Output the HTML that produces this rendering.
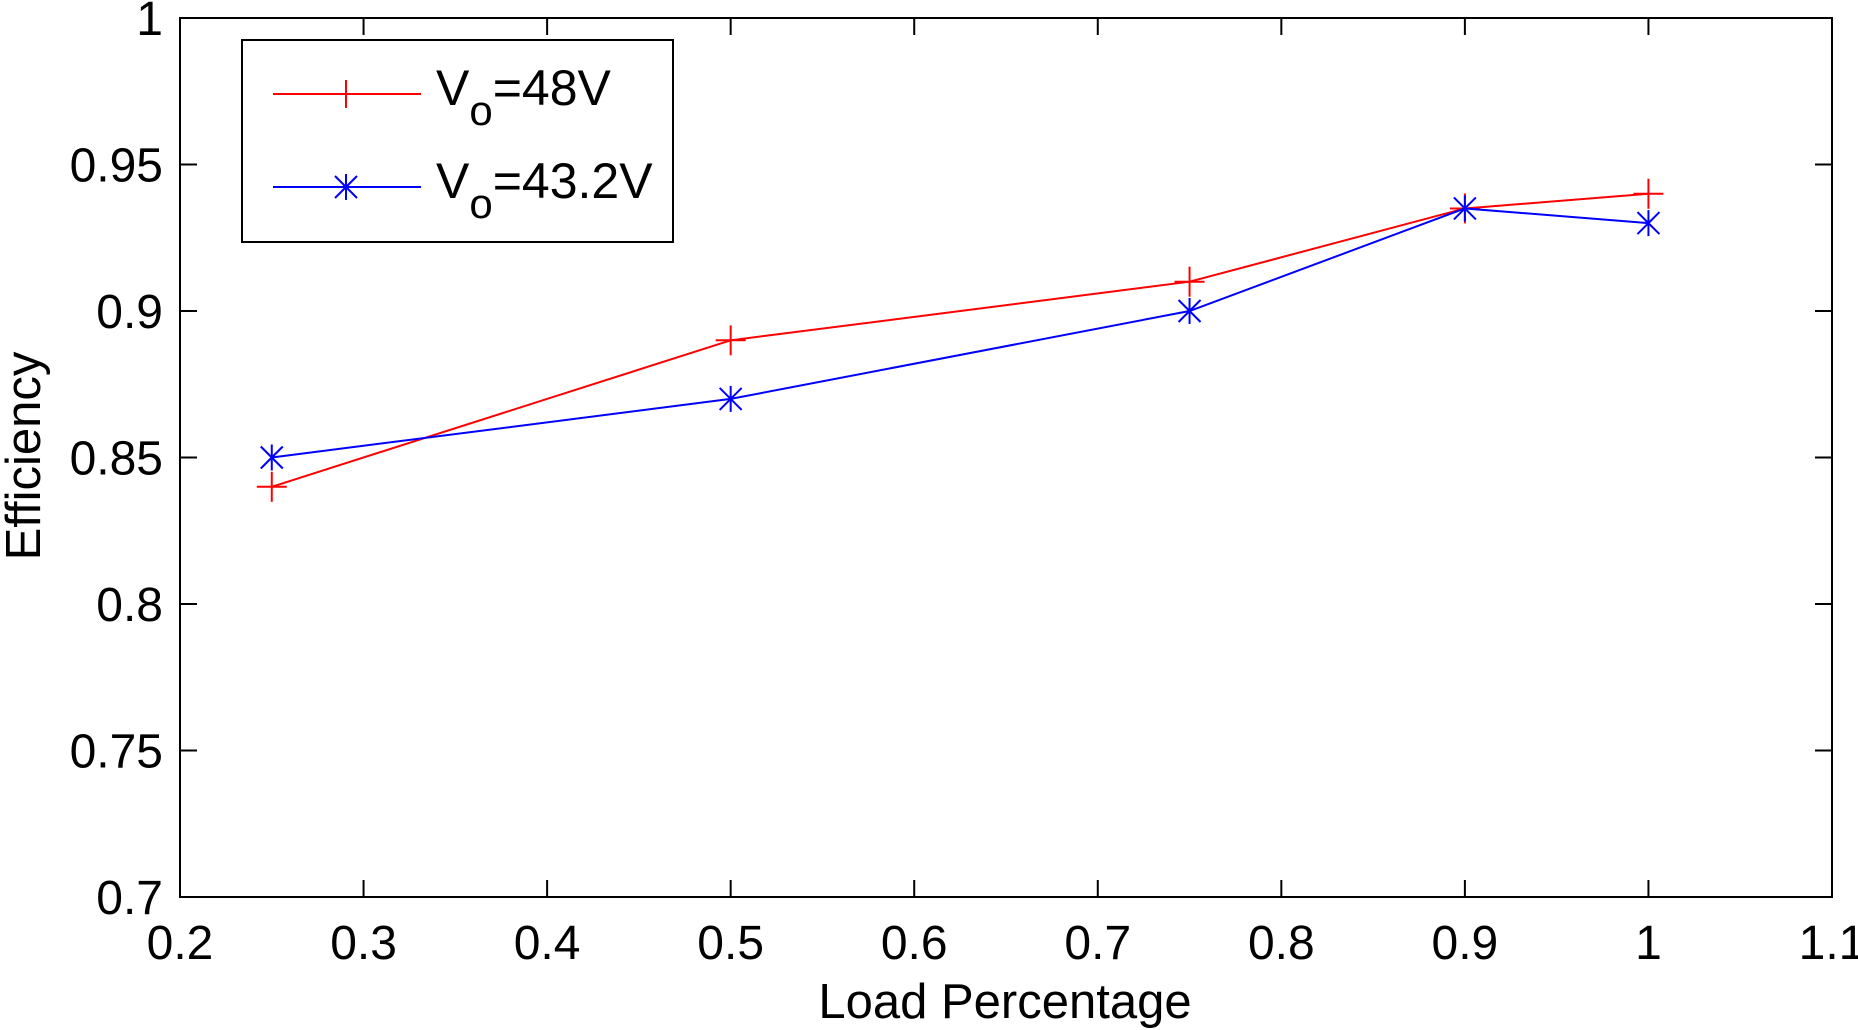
<!DOCTYPE html>
<html><head><meta charset="utf-8"><style>
html,body{margin:0;padding:0;background:#fff}
svg{display:block}
text{font-family:"Liberation Sans",Arial,sans-serif;fill:#000}
</style></head><body>
<svg id="chart" width="1858" height="1030" viewBox="0 0 1858 1030">
<g id="axes"></g>
<g id="series"></g>
<g id="legend">
<rect x="242" y="40" width="431" height="202" fill="#fff" stroke="#000" stroke-width="2"/>
<g>
<line x1="273" y1="94" x2="421" y2="94" stroke="#f00" stroke-width="2"/>
<line x1="346" y1="80" x2="346" y2="108" stroke="#f00" stroke-width="2"/>
<text x="436" y="105" font-size="50">V<tspan font-size="42" dy="20">o</tspan><tspan dy="-20">=48V</tspan></text>
</g>
<g>
<line x1="273" y1="187" x2="421" y2="187" stroke="#00f" stroke-width="2"/>
<g stroke="#00f" stroke-width="2"><line x1="346" y1="174" x2="346" y2="200"/><line x1="335" y1="176" x2="357" y2="198"/><line x1="335" y1="198" x2="357" y2="176"/></g>
<text x="436" y="198" font-size="50">V<tspan font-size="42" dy="20">o</tspan><tspan dy="-20">=43.2V</tspan></text>
</g>
</g>
</svg>
<script>
const xTicks=[0.2,0.3,0.4,0.5,0.6,0.7,0.8,0.9,1,1.1];
const xTickLabels=["0.2","0.3","0.4","0.5","0.6","0.7","0.8","0.9","1","1.1"];
const yTicks=[0.7,0.75,0.8,0.85,0.9,0.95,1];
const yTickLabels=["0.7","0.75","0.8","0.85","0.9","0.95","1"];
const loads=[0.25,0.5,0.75,0.9,1];
const eff48=[0.84,0.89,0.91,0.935,0.94];
const eff432=[0.85,0.87,0.90,0.935,0.93];

const L=180,R=1832,T=18,B=897;
const sx=v=>L+(v-0.2)/(1.1-0.2)*(R-L);
const sy=v=>B-(v-0.7)/(1-0.7)*(B-T);
const NS="http://www.w3.org/2000/svg";
function mk(tag,attrs,parent){const e=document.createElementNS(NS,tag);for(const k in attrs)e.setAttribute(k,attrs[k]);parent.appendChild(e);return e;}
const axes=document.getElementById('axes'),series=document.getElementById('series');
const frame=mk('rect',{x:L,y:T,width:R-L,height:B-T,fill:'none',stroke:'#000','stroke-width':2},axes);


xTicks.forEach((v,i)=>{
 const x=sx(v);
 mk('line',{x1:x,y1:B,x2:x,y2:B-17,stroke:'#000','stroke-width':2},axes);
 mk('line',{x1:x,y1:T,x2:x,y2:T+17,stroke:'#000','stroke-width':2},axes);
 const t=mk('text',{x:x,y:959,'font-size':48,'text-anchor':'middle'},axes);
 t.textContent=xTickLabels[i];
 
 
});
yTicks.forEach((v,i)=>{
 const y=sy(v);
 mk('line',{x1:L,y1:y,x2:L+17,y2:y,stroke:'#000','stroke-width':2},axes);
 mk('line',{x1:R,y1:y,x2:R-17,y2:y,stroke:'#000','stroke-width':2},axes);
 const t=mk('text',{x:163,y:y+17,'font-size':48,'text-anchor':'end'},axes);
 t.textContent=yTickLabels[i];
 
 
});
const xt=mk('text',{x:1005,y:1018,'font-size':49,'text-anchor':'middle'},axes);
xt.textContent='Load Percentage';


const yt=mk('text',{x:0,y:0,'font-size':49,'text-anchor':'middle',transform:'translate(40,456) rotate(-90)'},axes);
yt.textContent='Efficiency';



function draw(vals,color,marker,name){
 const g=mk('g',{},series);
 
 
 mk('polyline',{points:loads.map((x,i)=>sx(x)+','+sy(vals[i])).join(' '),fill:'none',stroke:color,'stroke-width':2},g);
 loads.forEach((x,i)=>{
  const cx=sx(x),cy=sy(vals[i]);
  const m=mk('g',{stroke:color,'stroke-width':2},g);
  
  
  if(marker==='plus'){
   mk('line',{x1:cx-15,y1:cy,x2:cx+15,y2:cy},m);mk('line',{x1:cx,y1:cy-15,x2:cx,y2:cy+15},m);
  }else{
   mk('line',{x1:cx,y1:cy-13,x2:cx,y2:cy+13},m);mk('line',{x1:cx-11,y1:cy-11,x2:cx+11,y2:cy+11},m);mk('line',{x1:cx-11,y1:cy+11,x2:cx+11,y2:cy-11},m);
  }
 });
}
draw(eff48,'#f00','plus','series-48v');
draw(eff432,'#00f','star','series-43v');
</script>
</body></html>
